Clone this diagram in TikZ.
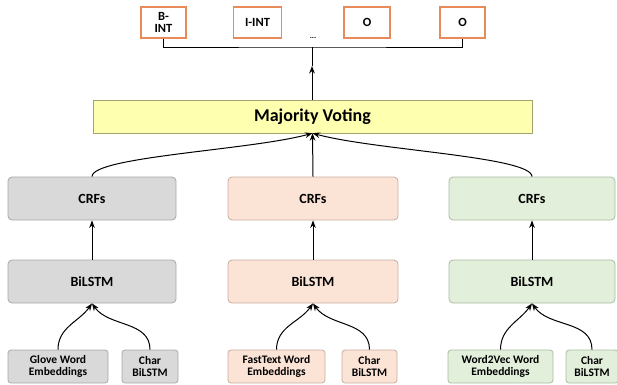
\documentclass[tikz,border=0pt]{standalone}
\usepackage{fontspec}
\setmainfont{Carlito}
\usetikzlibrary{
    arrows.meta,
    calc,
    positioning
}
\definecolor{tagedge}{HTML}{E98A5A}
\definecolor{votefill}{HTML}{FFFFB0}
\definecolor{voteedge}{HTML}{A3A370}
\definecolor{grayfill}{HTML}{D9D9D9}
\definecolor{grayedge}{HTML}{A8A8A8}
\definecolor{peachfill}{HTML}{FBE3D6}
\definecolor{peachedge}{HTML}{C8AE9F}
\definecolor{greenfill}{HTML}{E2EFDA}
\definecolor{greenedge}{HTML}{ABBBA2}
\tikzset{
    every picture/.style = {
        > = Stealth,
        x = 1pt,
        y = 1pt
    },
    every node/.style = {
        inner sep = 1pt,
        align = center,
        font = \bfseries
    },
    tag/.style = {
        draw = tagedge,
        fill = white,
        line width = 1.2pt,
        minimum height = 31pt,
        font = \bfseries\fontsize{12.5}{12.5}\selectfont
    },
    vote/.style = {
        draw = voteedge,
        fill = votefill,
        minimum width = 439pt,
        minimum height = 33pt,
        font = \bfseries\fontsize{18}{18}\selectfont
    },
    layer/.style = {
        draw = #1edge,
        fill = #1fill,
        rounded corners = 4pt,
        line width = 0.8pt,
        minimum width = 168pt,
        minimum height = 43pt,
        font = \bfseries\fontsize{14}{14}\selectfont
    },
    embed/.style = {
        draw = #1edge,
        fill = #1fill,
        rounded corners = 3pt,
        line width = 0.8pt,
        minimum height = 33pt,
        font = \bfseries\fontsize{11.5}{12}\selectfont
    },
    link/.style = {
        line width = 1pt
    }
}

\begin{document}
\begin{tikzpicture}
    \useasboundingbox (0, 0) rectangle (617, -384);

    \node[tag, minimum width = 45pt] (bint) at (163.5, -22.5) {B-\\INT};
    \node[tag, minimum width = 48pt] (iint) at (257.5, -22.5) {I-INT};
    \node[tag, minimum width = 46pt] (oone) at (367, -22.5) {O};
    \node[tag, minimum width = 45pt] (otwo) at (462.5, -22.5) {O};
    \node[font = \bfseries\fontsize{8}{8}\selectfont] (dots) at (313, -38) {...};

    \node[vote] (vote) at (312.5, -116.5) {Majority Voting};

    \node[layer = gray] (crfl) at (92, -198.5) {CRFs};
    \node[layer = peach, minimum width = 170pt] (crfm) at (313, -198.5) {CRFs};
    \node[layer = green, minimum width = 166pt] (crfr) at (532, -198.5) {CRFs};

    \node[layer = gray] (lstml) at (92, -281.5) {BiLSTM};
    \node[layer = peach, minimum width = 170pt] (lstmm) at (313, -281.5) {BiLSTM};
    \node[layer = green, minimum width = 166pt] (lstmr) at (532, -281.5) {BiLSTM};

    \node[embed = gray, minimum width = 100pt] (glove) at (58, -366.5) {Glove Word\\Embeddings};
    \node[embed = gray, minimum width = 56pt] (charl) at (150, -366.5) {Char\\BiLSTM};
    \node[embed = peach, minimum width = 97pt] (fasttext) at (276.5, -366.5) {FastText Word\\Embeddings};
    \node[embed = peach, minimum width = 55pt] (charm) at (369.5, -366.5) {Char\\BiLSTM};
    \node[embed = green, minimum width = 105pt] (wordvec) at (500.5, -366.5) {Word2Vec Word\\Embeddings};
    \node[embed = green, minimum width = 52pt] (charr) at (592, -366.5) {Char\\BiLSTM};

    % tag outputs
    \coordinate (bus) at (312, -47);
    \coordinate (mid) at (312, -66);
    \draw[link] (bint.south) |- (bus) -| (otwo.south);
    \draw[link, ->] (vote.north -| mid) -- (mid);
    \draw[link] (mid) -- (bus);

    % voting
    \draw[link, ->] (crfl.north) .. controls +(0, 20) and +(-62, -17) .. (vote.south);
    \draw[link, ->] (crfm.north) -- (vote.south);
    \draw[link, ->] (crfr.north) .. controls +(0, 20) and +(62, -17) .. (vote.south);

    \foreach \s in {l, m, r}
        \path[link, ->] (lstm\s.north) edge (crf\s.south);

    % embeddings
    \path[link, ->] (glove.north) edge[out = 90, in = 235] (lstml.south);
    \path[link, ->] (charl.north) edge[out = 90, in = 305] (lstml.south);
    \path[link, ->] (fasttext.north) edge[out = 90, in = 235] (lstmm.south);
    \path[link, ->] (charm.north) edge[out = 90, in = 305] (lstmm.south);
    \path[link, ->] (wordvec.north) edge[out = 90, in = 235] (lstmr.south);
    \path[link, ->] (charr.north) edge[out = 90, in = 305] (lstmr.south);
\end{tikzpicture}
\end{document}
